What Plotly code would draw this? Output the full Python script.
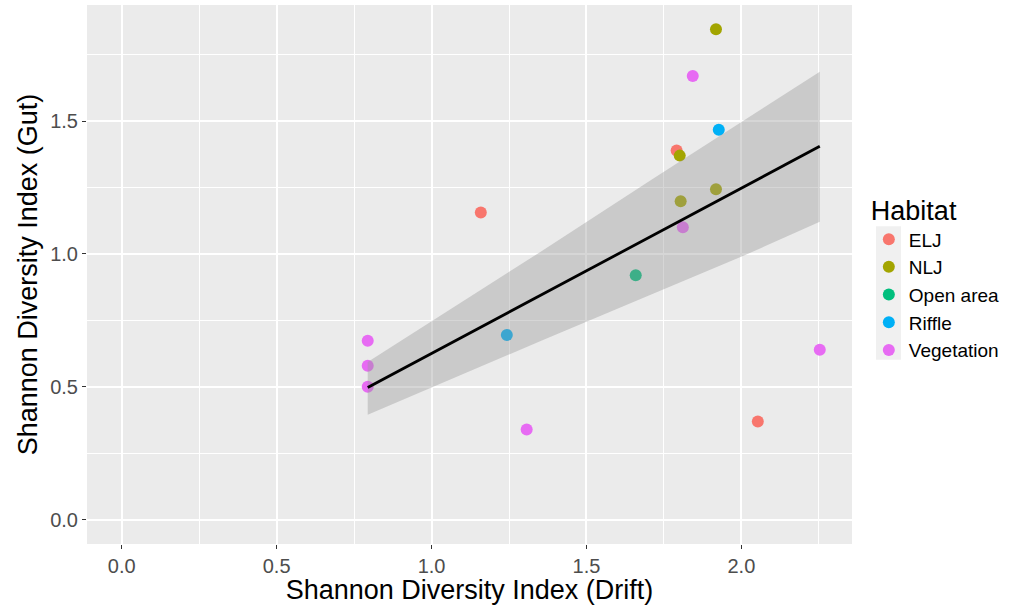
import plotly.graph_objects as go

# ---- data ----
habitats = ["ELJ", "NLJ", "Open area", "Riffle", "Vegetation"]
colors = ["#F8766D", "#A3A500", "#00BF7D", "#00B0F6", "#E76BF3"]

elj_x = [1.791, 1.159, 2.053]
elj_y = [1.389, 1.156, 0.369]
nlj_x = [1.918, 1.801, 1.804, 1.918]
nlj_y = [1.846, 1.370, 1.198, 1.243]
open_x = [1.659]
open_y = [0.920]
riffle_x = [1.927, 1.243]
riffle_y = [1.467, 0.695]
veg_x = [1.843, 1.811, 0.794, 0.794, 0.794, 1.307, 2.253]
veg_y = [1.670, 1.100, 0.673, 0.579, 0.500, 0.339, 0.639]

# fitted line and confidence band
fit_x = [0.794, 2.253]
fit_y = [0.497, 1.405]
band_x = [0.794, 1.356, 1.711, 2.001, 2.253]
band_lo = [0.395, 0.674, 0.848, 0.990, 1.121]
band_hi = [0.593, 1.011, 1.280, 1.496, 1.686]

x_ticks = [0.0, 0.5, 1.0, 1.5, 2.0]
y_ticks = [0.0, 0.5, 1.0, 1.5]

series = [
    (elj_x, elj_y),
    (nlj_x, nlj_y),
    (open_x, open_y),
    (riffle_x, riffle_y),
    (veg_x, veg_y),
]

FONT = "Liberation Sans, Arial, Helvetica"

fig = go.Figure()
for name, col, (xs, ys) in zip(habitats, colors, series):
    fig.add_trace(go.Scatter(
        x=xs, y=ys, mode="markers", name=name,
        marker=dict(color=col, size=12, line=dict(width=0)),
    ))

# band drawn over points (like ggplot ribbon)
fig.add_trace(go.Scatter(
    x=band_x + band_x[::-1], y=band_hi + band_lo[::-1],
    fill="toself", fillcolor="rgba(153,153,153,0.4)",
    line=dict(width=0), mode="lines", showlegend=False, hoverinfo="skip",
))
fig.add_trace(go.Scatter(
    x=fit_x, y=fit_y, mode="lines", line=dict(color="black", width=2.8),
    showlegend=False,
))

axis_common = dict(
    showgrid=True, gridcolor="white", gridwidth=1.6,
    zeroline=False, showline=False,
    ticks="outside", ticklen=4, tickwidth=1, tickcolor="#333333",
    tickfont=dict(family=FONT, size=20, color="#4D4D4D"),
)

fig.update_xaxes(
    range=[-0.112, 2.357], tickvals=x_ticks,
    ticktext=[f"{v:.1f}" for v in x_ticks],
    minor=dict(dtick=0.25, tick0=0.25, showgrid=True, gridcolor="white", gridwidth=0.7, ticks=""),
    title=dict(text="Shannon Diversity Index (Drift)", standoff=4,
               font=dict(family=FONT, size=27, color="black")),
    **axis_common,
)
fig.update_yaxes(
    range=[-0.092, 1.937], tickvals=y_ticks,
    ticktext=[f"{v:.1f}" for v in y_ticks],
    minor=dict(dtick=0.25, tick0=0.25, showgrid=True, gridcolor="white", gridwidth=0.7, ticks=""),
    title=dict(text="Shannon Diversity Index (Gut)", standoff=4,
               font=dict(family=FONT, size=27, color="black")),
    **axis_common,
)

# legend key background (ggplot grey key column)
def px_x(p):
    return (p - 87) / 765.0

def px_y(p):
    return (546 - p) / 541.0

fig.add_shape(
    type="rect", xref="paper", yref="paper",
    x0=px_x(876), x1=px_x(901), y0=px_y(361), y1=px_y(227),
    fillcolor="#F0F0F0", line=dict(width=0), layer="below",
)

fig.update_layout(
    width=1021, height=605,
    margin=dict(l=87, r=169, t=5, b=59),
    paper_bgcolor="white", plot_bgcolor="#EBEBEB",
    font=dict(family=FONT),
    legend=dict(
        title=dict(text="Habitat", font=dict(family=FONT, size=27, color="black")),
        font=dict(family=FONT, size=19, color="black"),
        x=1.022, xanchor="left", y=0.495, yanchor="middle",
        bgcolor="rgba(0,0,0,0)", itemsizing="constant",
        tracegroupgap=0,
    ),
    showlegend=True,
)

fig.write_html("out.html")
